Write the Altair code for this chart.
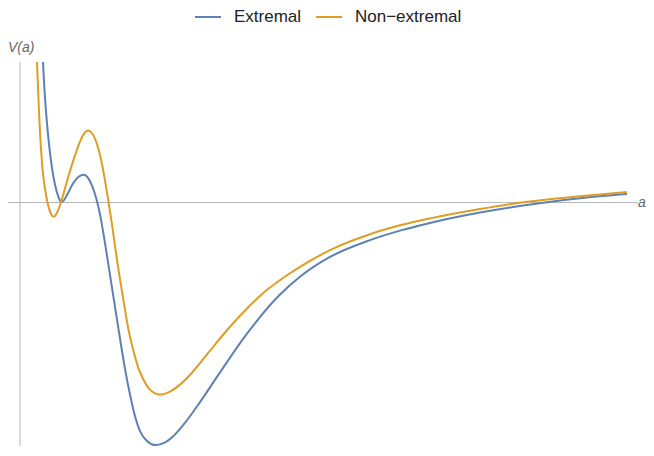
import altair as alt
import pandas as pd

series = ["Extremal", "Non−extremal"]
colors = ["#5E81B5", "#E19C24"]

a_ext = [2.2, 2.3, 2.4, 2.5, 2.7, 2.9, 3.2, 3.5, 3.8, 4.0, 4.1, 4.4, 4.8, 5.2, 5.6, 6.0,
         6.4, 6.8, 7.2, 7.6, 8.0, 8.5, 9.2, 9.9, 10.5, 11.0, 11.5, 12.0, 12.7, 13.5, 14.3,
         15.3, 16.5, 18.0, 20.0, 22.7, 26.0, 28.0, 31.0, 35.0, 38.0, 41.0, 46.0, 49.3,
         52.7, 56.0, 60.7]
v_ext = [16.4, 14.2, 12.2, 10.6, 8.0, 5.9, 3.5, 1.8, 0.7, 0.2, 0.05, 0.25, 0.95, 1.75,
         2.35, 2.7, 2.8, 2.5, 1.7, 0.5, -1.2, -4.1, -8.6, -13.1, -16.8, -19.4, -21.6,
         -23.1, -24.1, -24.5, -24.34, -23.64, -22.26, -20.16, -17.16, -13.25, -9.3, -7.5,
         -5.5, -3.8, -2.84, -2.06, -1.01, -0.45, 0.04, 0.44, 0.86]

a_non = [1.6, 1.7, 1.8, 1.9, 2.0, 2.1, 2.2, 2.35, 2.5, 2.65, 2.8, 3.0, 3.15, 3.3, 3.45,
         3.6, 4.0, 4.3, 4.7, 5.1, 5.5, 6.0, 6.4, 6.8, 7.2, 7.6, 8.0, 8.4, 8.8, 9.2, 9.7,
         10.3, 10.8, 11.3, 11.8, 12.3, 13.0, 14.0, 15.0, 16.0, 17.2, 18.3, 19.5, 21.0,
         22.7, 24.5, 26.7, 28.0, 31.0, 35.0, 38.0, 41.0, 46.0, 49.3, 52.7, 56.0, 60.7]
v_non = [17.0, 14.2, 11.6, 9.2, 7.1, 5.4, 4.0, 2.5, 1.4, 0.5, -0.2, -0.9, -1.25, -1.4,
         -1.4, -1.2, -0.27, 0.72, 2.16, 3.52, 4.76, 6.16, 6.96, 7.28, 7.0, 6.2, 4.8, 2.8,
         0.4, -2.2, -5.8, -9.6, -12.6, -14.8, -16.6, -17.8, -18.9, -19.4, -19.1, -18.4,
         -17.2, -15.85, -14.35, -12.55, -10.7, -9.0, -7.35, -6.5, -4.8, -3.2, -2.3,
         -1.6, -0.65, -0.12, 0.3, 0.64, 1.05]

x_dom = [-1.2, 61.8]
y_dom = [-24.6, 14.2]

df = pd.concat([
    pd.DataFrame({"a": a_ext, "V": v_ext, "series": series[0], "k": range(len(a_ext))}),
    pd.DataFrame({"a": a_non, "V": v_non, "series": series[1], "k": range(len(a_non))}),
], ignore_index=True)

xs = alt.Scale(domain=x_dom, nice=False, zero=False)
ys = alt.Scale(domain=y_dom, nice=False, zero=False)

axes_df = pd.DataFrame({"a1": [0, x_dom[0]], "a2": [0, x_dom[1]],
                        "V1": [y_dom[0], 0], "V2": [y_dom[1], 0]})
axes = alt.Chart(axes_df).mark_rule(color="#b5b5b5", strokeWidth=1).encode(
    x=alt.X("a1:Q", scale=xs, axis=None), x2="a2",
    y=alt.Y("V1:Q", scale=ys, axis=None), y2="V2",
)

lines = alt.Chart(df).mark_line(strokeWidth=2, clip=True, interpolate="monotone").encode(
    x=alt.X("a:Q", scale=xs, axis=None),
    y=alt.Y("V:Q", scale=ys, axis=None),
    color=alt.Color("series:N", scale=alt.Scale(domain=series, range=colors),
                    legend=alt.Legend(title=None, orient="none", direction="horizontal",
                                      legendX=186, legendY=-59, padding=0,
                                      symbolType="stroke", symbolSize=676,
                                      symbolStrokeWidth=2, labelOffset=12,
                                      columnPadding=10, labelFontSize=17,
                                      labelFont="Liberation Sans", labelColor="#222",
                                      labelLimit=300)),
    order="k:Q",
)

ylab = alt.Chart(pd.DataFrame({"t": ["V(a)"]})).mark_text(
    align="left", baseline="alphabetic", fontStyle="italic", fontSize=14,
    font="Liberation Sans", color="#666"
).encode(x=alt.value(0), y=alt.value(-10), text="t:N")

xlab = alt.Chart(pd.DataFrame({"t": ["a"]})).mark_text(
    align="left", baseline="alphabetic", fontStyle="italic", fontSize=14,
    font="Liberation Sans", color="#666"
).encode(x=alt.value(630), y=alt.value(145), text="t:N")

chart = alt.layer(axes, lines, ylab, xlab).properties(
    width=630, height=384,
    autosize=alt.AutoSizeParams(type="none"),
    padding={"left": 0, "top": 54, "right": 8, "bottom": 0},
).configure_view(stroke=None)

chart.save("out.html", embed_options={"renderer": "svg", "actions": False})
